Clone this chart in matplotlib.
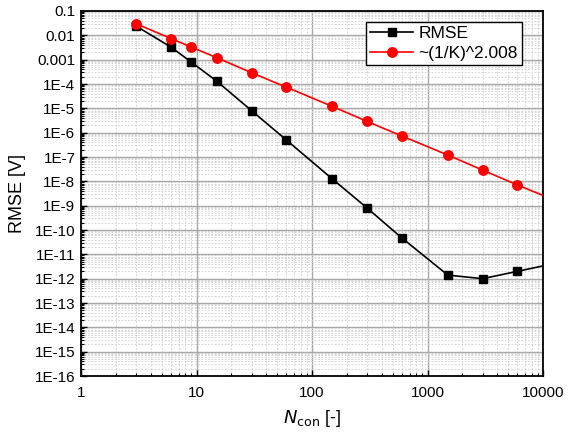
import matplotlib
matplotlib.use("Agg")
import matplotlib.pyplot as plt
from matplotlib.ticker import LogLocator, FixedLocator, FixedFormatter, NullFormatter

plt.rcParams['font.family'] = ['Liberation Sans', 'DejaVu Sans']

n_con = [3, 6, 9, 15, 30, 60, 150, 300, 600, 1500, 3000, 6000]
rmse = [0.024, 3.3e-3, 8e-4, 1.3e-4, 8e-6, 5e-7, 1.25e-8, 8e-10, 4.7e-11, 1.4e-12, 1.0e-12, 2.0e-12]
n_ext = [15000]
rmse_ext = [5e-12]
fit = [0.03, 7.4e-3, 3.3e-3, 1.2e-3, 2.9e-4, 7.4e-5, 1.2e-5, 2.9e-6, 7.3e-7, 1.2e-7, 2.9e-8, 7.1e-9]
fit_ext = [1.2e-9]

ytick_vals = [10.0**(-k) for k in range(1, 17)]
ytick_labels = ['0.1', '0.01', '0.001'] + ['1E-%d' % k for k in range(4, 17)]
xtick_vals = [1, 10, 100, 1000, 10000]
xtick_labels = ['1', '10', '100', '1000', '10000']

fig = plt.figure(figsize=(5.70, 4.36), dpi=100)
ax = fig.add_axes([81/570, 1-376/436, (543-81)/570, (376-11)/436])

ax.plot(n_con + n_ext, rmse + rmse_ext, color='black', lw=1.2, zorder=3)
ax.plot(n_con, rmse, color='black', lw=1.2, marker='s', ms=6, ls='none', zorder=4)
ax.plot(n_con + n_ext, fit + fit_ext, color='#ff0000', lw=1.2, zorder=3)
ax.plot(n_con, fit, color='#ff0000', marker='o', ms=6.8, ls='none', zorder=4)

# legend handles
h1, = ax.plot([], [], color='black', lw=1.2, marker='s', ms=6, label='RMSE')
h2, = ax.plot([], [], color='#ff0000', lw=1.2, marker='o', ms=6.8, label='~(1/K)^2.008')

ax.set_xscale('log')
ax.set_yscale('log')
ax.set_xlim(1, 10000)
ax.set_ylim(1e-16, 0.1)

ax.yaxis.set_major_locator(FixedLocator(ytick_vals))
ax.yaxis.set_major_formatter(FixedFormatter(ytick_labels))
ax.yaxis.set_minor_locator(LogLocator(base=10, subs=range(2, 10), numticks=100))
ax.yaxis.set_minor_formatter(NullFormatter())
ax.xaxis.set_major_locator(FixedLocator(xtick_vals))
ax.xaxis.set_major_formatter(FixedFormatter(xtick_labels))
ax.xaxis.set_minor_locator(LogLocator(base=10, subs=range(2, 10), numticks=100))
ax.xaxis.set_minor_formatter(NullFormatter())

ax.tick_params(which='major', direction='in', length=4, width=1, labelsize=11, pad=4)
ax.tick_params(which='minor', direction='in', length=2, width=0.8)
ax.tick_params(axis='x', pad=7)

ax.grid(which='major', color='#a8a8a8', lw=1.0, ls='-', zorder=1)
ax.grid(which='minor', color='#cccccc', lw=0.6, ls=(0, (2, 2)), zorder=0)
for s in ax.spines.values():
    s.set_linewidth(1.3)

ax.set_ylabel('RMSE [V]', fontsize=13, labelpad=6)
ax.set_xlabel(r'$N_{\mathrm{con}}$ [-]', fontsize=13, labelpad=6)

leg = ax.legend(handles=[h1, h2], loc='upper right', bbox_to_anchor=(0.955, 0.97),
                fontsize=12.5, frameon=True, fancybox=False, edgecolor='black',
                framealpha=1, borderpad=0.25, handlelength=2.5, handletextpad=0.3,
                labelspacing=0.25, borderaxespad=0)
leg.get_frame().set_linewidth(1.0)

fig.savefig('out.png', dpi=100)
